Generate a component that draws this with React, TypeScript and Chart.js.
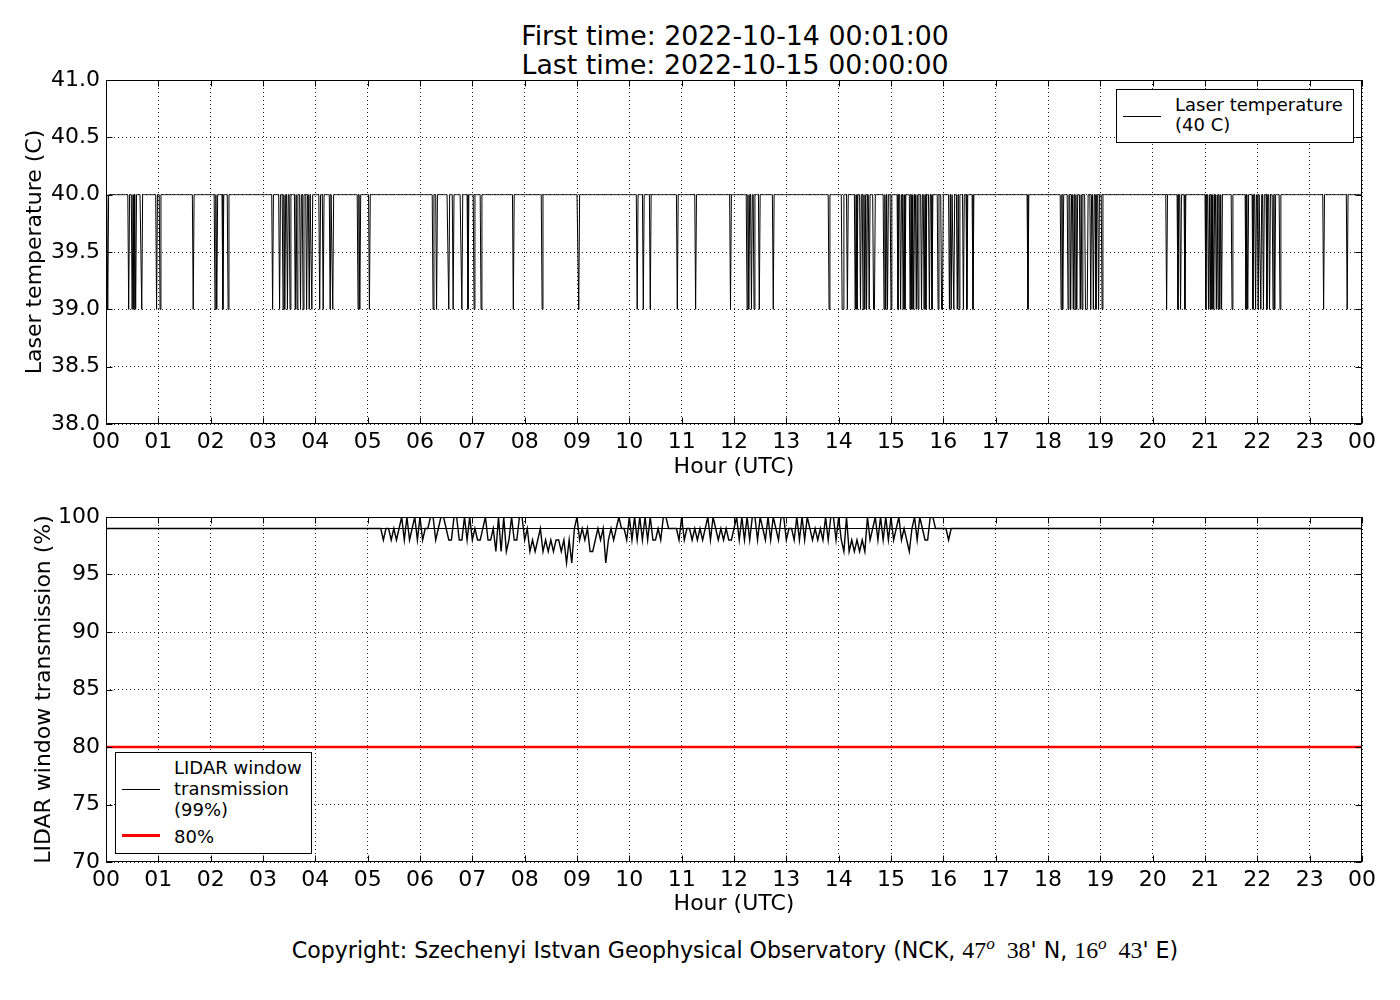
import React, { useEffect, useRef } from 'react';
import { Chart, Plugin, registerables } from 'chart.js';

Chart.register(...registerables);

// Laser temperature (C): normal level, level during a drop and the hours of the one-minute drops
const LASER_NORMAL = 40;
const LASER_LOW = 39;
const laserDropHours = [
    0.04, 0.44, 0.5, 0.54, 0.57, 0.69, 0.97, 1.03, 1.66, 2.08, 2.12, 2.24, 2.33,
    3.19, 3.31, 3.38, 3.42, 3.46, 3.52, 3.61, 3.65, 3.71, 3.76, 3.84, 3.88, 3.94,
    4.09, 4.15, 4.28, 4.34, 4.82, 4.85, 5.04, 6.25, 6.32, 6.55, 6.63, 6.8, 6.92,
    7.03, 7.17, 7.78, 8.33, 9.04, 10.15, 10.26, 10.4, 10.91, 11.27, 11.94, 12.25,
    12.29, 12.34, 12.38, 12.48, 12.75, 13.82, 14.06, 14.09, 14.16, 14.31, 14.35,
    14.41, 14.47, 14.5, 14.54, 14.58, 14.66, 14.69, 14.87, 14.9, 14.94, 15.0,
    15.13, 15.19, 15.23, 15.27, 15.36, 15.4, 15.44, 15.48, 15.52, 15.59, 15.63,
    15.67, 15.73, 15.78, 15.9, 15.96, 15.99, 16.11, 16.15, 16.2, 16.26, 16.3,
    16.38, 16.45, 16.57, 17.62, 18.25, 18.29, 18.38, 18.44, 18.48, 18.52, 18.55,
    18.61, 18.65, 18.71, 18.73, 18.75, 18.82, 18.86, 18.92, 18.96, 19.03, 20.26,
    20.48, 20.54, 20.62, 21.02, 21.06, 21.1, 21.13, 21.17, 21.21, 21.25, 21.29,
    21.32, 21.52, 21.78, 21.82, 21.92, 21.97, 22.01, 22.07, 22.11, 22.18, 22.24,
    22.3, 22.34, 22.43, 23.27, 23.71,
];

// LIDAR window transmission (%): 3-minute samples from 05:15, one row per hour
const TRANSMISSION_LEVEL = 99;
const TRANSMISSION_LIMIT = 80;
const TRANSMISSION_START = 5.25;
const TRANSMISSION_STEP = 0.05;
const transmission05 = [99, 98, 99, 99, 98, 99, 98, 99, 100, 98, 100, 98, 99, 100, 98];
const transmission06 = [100, 98, 99, 99, 100, 100, 98, 99, 100, 100, 99, 98, 98, 100, 100, 98, 98, 100, 98, 100];
const transmission07 = [98, 99, 98, 98, 99, 100, 98, 98, 99, 97, 100, 97, 100, 97, 98, 100, 98, 98, 100, 100];
const transmission08 = [98, 99, 97, 98, 97, 98, 99, 97, 98, 97, 98, 97, 98, 98, 97, 98, 96, 98, 96, 99];
const transmission09 = [100, 98, 99, 98, 99, 97, 97, 98, 99, 98, 99, 96, 98, 99, 98, 99, 100, 99, 99, 98];
const transmission10 = [100, 98, 100, 98, 100, 98, 100, 98, 100, 98, 98, 99, 98, 100, 100, 99, 99, 99, 99, 98];
const transmission11 = [100, 98, 99, 99, 98, 99, 98, 99, 98, 99, 100, 98, 100, 99, 98, 99, 98, 99, 98, 98];
const transmission12 = [99, 100, 98, 100, 98, 100, 98, 100, 100, 98, 100, 99, 98, 100, 98, 100, 99, 98, 100, 100];
const transmission13 = [98, 99, 99, 98, 100, 98, 100, 98, 100, 99, 98, 99, 98, 99, 98, 100, 98, 100, 100, 98];
const transmission14 = [100, 98, 97, 100, 97, 98, 97, 98, 97, 98, 97, 100, 98, 99, 100, 98, 100, 98, 100, 98];
const transmission15 = [100, 98, 99, 100, 98, 99, 98, 97, 99, 100, 98, 100, 99, 98, 98, 100, 100, 99, 99, 99];
const transmission16 = [99, 99, 98, 99];
const transmissionRows = [
    transmission05, transmission06, transmission07, transmission08, transmission09, transmission10,
    transmission11, transmission12, transmission13, transmission14, transmission15, transmission16,
];

// time range of the file, in hours
const FIRST_HOUR = 1 / 60;
const LAST_HOUR = 24;

// tick labels
const hourLabels = [
    '00', '01', '02', '03', '04', '05', '06', '07', '08', '09', '10', '11', '12',
    '13', '14', '15', '16', '17', '18', '19', '20', '21', '22', '23', '00',
];
const temperatureLabels = ['38.0', '38.5', '39.0', '39.5', '40.0', '40.5', '41.0'];
const transmissionLabels = ['70', '75', '80', '85', '90', '95', '100'];

// one value per minute, 00:01 .. 24:00
const dropMinutes = new Set(laserDropHours.map((h) => Math.round(h * 60)));
const laserPoints = Array.from({ length: 1440 }, (_, i) => {
    const minute = i + 1;
    return { x: minute / 60, y: dropMinutes.has(minute) ? LASER_LOW : LASER_NORMAL };
});

const transmissionSamples = transmissionRows.flat();
const transmissionPoints = [
    { x: FIRST_HOUR, y: TRANSMISSION_LEVEL },
    ...transmissionSamples.map((v, i) => ({ x: TRANSMISSION_START + i * TRANSMISSION_STEP, y: v })),
    { x: LAST_HOUR, y: TRANSMISSION_LEVEL },
];

const FONT = '"DejaVu Sans", sans-serif';
const axisFont = { family: FONT, size: 22 };

// matplotlib-like box round the plot with inward ticks on all four sides
const framePlugin: Plugin = {
    id: 'frame',
    afterDraw(chart) {
        const { ctx, chartArea: a, scales } = chart;
        const left = Math.round(a.left) + 0.5;
        const right = Math.round(a.right) - 0.5;
        const top = Math.round(a.top) + 0.5;
        const bottom = Math.round(a.bottom) - 0.5;
        ctx.save();
        ctx.strokeStyle = '#000';
        ctx.lineWidth = 1;
        ctx.strokeRect(left, top, right - left, bottom - top);
        ctx.beginPath();
        scales.x.ticks.forEach((t) => {
            const px = Math.round(scales.x.getPixelForValue(t.value)) + 0.5;
            ctx.moveTo(px, bottom);
            ctx.lineTo(px, bottom - 6);
            ctx.moveTo(px, top);
            ctx.lineTo(px, top + 6);
        });
        scales.y.ticks.forEach((t) => {
            const py = Math.round(scales.y.getPixelForValue(t.value)) + 0.5;
            ctx.moveTo(left, py);
            ctx.lineTo(left + 6, py);
            ctx.moveTo(right, py);
            ctx.lineTo(right - 6, py);
        });
        ctx.stroke();
        ctx.restore();
    },
};

interface PanelProps {
    top: number;
    height: number;
    padTop: number;
    xAxisHeight: number;
    xTitleBottom: number;
    yTitlePad: number;
    yMin: number;
    yMax: number;
    yStep: number;
    yLabels: string[];
    yTitle: string;
    datasets: any[];
}

const Panel: React.FC<PanelProps> = (p) => {
    const canvasRef = useRef<HTMLCanvasElement | null>(null);

    useEffect(() => {
        if (!canvasRef.current) return;
        const chart = new Chart(canvasRef.current, {
            type: 'line',
            data: { datasets: p.datasets },
            plugins: [framePlugin],
            options: {
                responsive: false,
                animation: false,
                events: [],
                layout: { padding: { top: p.padTop, right: 38, left: 0, bottom: 0 } },
                plugins: { legend: { display: false }, tooltip: { enabled: false } },
                elements: { point: { radius: 0 }, line: { tension: 0 } },
                scales: {
                    x: {
                        type: 'linear',
                        min: 0,
                        max: 24,
                        afterFit: (s: any) => {
                            s.height = p.xAxisHeight;
                        },
                        ticks: {
                            stepSize: 1,
                            autoSkip: false,
                            maxRotation: 0,
                            padding: 5,
                            color: '#000',
                            font: axisFont,
                            callback: (v: any) => hourLabels[Math.round(v)],
                        },
                        grid: { color: '#222', lineWidth: 1, drawTicks: false },
                        border: { display: false, dash: [1, 3] },
                        title: {
                            display: true,
                            text: 'Hour (UTC)',
                            color: '#000',
                            font: axisFont,
                            padding: { top: 0, bottom: p.xTitleBottom },
                        },
                    },
                    y: {
                        type: 'linear',
                        min: p.yMin,
                        max: p.yMax,
                        afterFit: (s: any) => {
                            s.width = 106;
                        },
                        ticks: {
                            stepSize: p.yStep,
                            padding: 6,
                            color: '#000',
                            font: axisFont,
                            callback: (v: any) => p.yLabels[Math.round((v - p.yMin) / p.yStep)],
                        },
                        grid: { color: '#222', lineWidth: 1, drawTicks: false },
                        border: { display: false, dash: [1, 3] },
                        title: {
                            display: true,
                            text: p.yTitle,
                            color: '#000',
                            font: axisFont,
                            padding: { top: p.yTitlePad, bottom: 0 },
                        },
                    },
                },
            } as any,
        });
        return () => {
            chart.destroy();
        };
    }, [p]);

    return (
        <canvas
            ref={canvasRef}
            width={1400}
            height={p.height}
            style={{ position: 'absolute', left: 0, top: p.top, width: 1400, height: p.height }}
        />
    );
};

const laserDatasets = [
    {
        label: 'Laser temperature (40 C)',
        data: laserPoints,
        borderColor: '#000',
        borderWidth: 1,
    },
];

const transmissionDatasets = [
    {
        label: '99% level',
        data: [
            { x: FIRST_HOUR, y: TRANSMISSION_LEVEL },
            { x: LAST_HOUR, y: TRANSMISSION_LEVEL },
        ],
        borderColor: '#000',
        borderWidth: 1,
    },
    {
        label: 'LIDAR window transmission (99%)',
        data: transmissionPoints,
        borderColor: '#000',
        borderWidth: 1.4,
    },
    {
        label: '80%',
        data: [
            { x: 0, y: TRANSMISSION_LIMIT },
            { x: 24, y: TRANSMISSION_LIMIT },
        ],
        borderColor: '#ff0000',
        borderWidth: 2.5,
    },
];

const sup: React.CSSProperties = { fontSize: '0.72em', fontStyle: 'italic', position: 'relative', top: '-0.55em' };
const serif: React.CSSProperties = { fontFamily: '"Liberation Serif", serif', fontSize: '1.08em' };

const App: React.FC = () => {
    return (
        <div
            style={{
                position: 'absolute',
                left: 0,
                top: 0,
                width: 1400,
                height: 1000,
                background: '#fff',
                color: '#000',
                fontFamily: FONT,
                overflow: 'hidden',
            }}
        >
            <div
                style={{
                    position: 'absolute',
                    left: 235,
                    top: 21,
                    width: 1000,
                    textAlign: 'center',
                    fontSize: 26.8,
                    lineHeight: '29px',
                }}
            >
                <div>First time: 2022-10-14 00:01:00</div>
                <div>Last time: 2022-10-15 00:00:00</div>
            </div>

            <Panel
                top={0}
                height={490}
                padTop={80}
                xAxisHeight={66}
                xTitleBottom={10}
                yTitlePad={22}
                yMin={38}
                yMax={41}
                yStep={0.5}
                yLabels={temperatureLabels}
                yTitle="Laser temperature (C)"
                datasets={laserDatasets}
            />
            <Panel
                top={490}
                height={430}
                padTop={27}
                xAxisHeight={58}
                xTitleBottom={3}
                yTitlePad={31}
                yMin={70}
                yMax={100}
                yStep={5}
                yLabels={transmissionLabels}
                yTitle="LIDAR window transmission (%)"
                datasets={transmissionDatasets}
            />

            <div
                style={{
                    position: 'absolute',
                    left: 1116,
                    top: 89,
                    width: 238,
                    height: 54,
                    boxSizing: 'border-box',
                    border: '1px solid #000',
                    background: '#fff',
                }}
            >
                <div style={{ position: 'absolute', left: 6, top: 26, width: 38, borderTop: '1px solid #000' }} />
                <div style={{ position: 'absolute', left: 58, top: 5, fontSize: 18, lineHeight: '20px', whiteSpace: 'nowrap' }}>
                    Laser temperature
                    <br />
                    (40 C)
                </div>
            </div>

            <div
                style={{
                    position: 'absolute',
                    left: 115,
                    top: 752,
                    width: 197,
                    height: 102,
                    boxSizing: 'border-box',
                    border: '1px solid #000',
                    background: '#fff',
                }}
            >
                <div style={{ position: 'absolute', left: 6, top: 36, width: 38, borderTop: '1px solid #000' }} />
                <div style={{ position: 'absolute', left: 58, top: 4, fontSize: 18, lineHeight: '21px', whiteSpace: 'nowrap' }}>
                    LIDAR window
                    <br />
                    transmission
                    <br />
                    (99%)
                </div>
                <div style={{ position: 'absolute', left: 6, top: 81, width: 38, height: 3, background: '#ff0000' }} />
                <div style={{ position: 'absolute', left: 58, top: 73, fontSize: 18, lineHeight: '21px' }}>80%</div>
            </div>

            <div
                style={{
                    position: 'absolute',
                    left: 235,
                    top: 937,
                    width: 1000,
                    textAlign: 'center',
                    fontSize: 22.1,
                    lineHeight: '26px',
                    whiteSpace: 'nowrap',
                }}
            >
                Copyright: Szechenyi Istvan Geophysical Observatory (NCK,{' '}
                <span style={serif}>
                    47<span style={sup}>o</span>&nbsp;&nbsp;38
                </span>
                ' N,{' '}
                <span style={serif}>
                    16<span style={sup}>o</span>&nbsp;&nbsp;43
                </span>
                ' E)
            </div>
        </div>
    );
};

export default App;
